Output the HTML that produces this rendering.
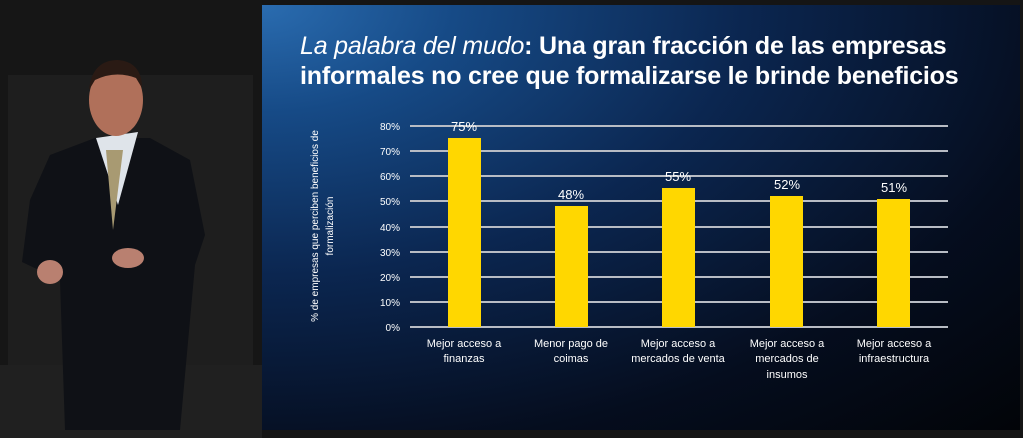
<!DOCTYPE html>
<html><head><style>
body{margin:0;width:1023px;height:438px;overflow:hidden;background:#151515;position:relative;font-family:"Liberation Sans",sans-serif}
#slide{position:absolute;left:262px;top:5px;width:758px;height:425px;background:radial-gradient(ellipse at 0% 0%,#2a6cb0 0%,#164a86 18%,#0b2650 45%,#050d1e 75%,#020408 100%)}
.t{position:absolute;color:#fff;font-weight:bold;font-size:25px;left:38px;white-space:nowrap;letter-spacing:-0.2px}
</style></head><body>
<svg width="262" height="438" style="position:absolute;left:0;top:0">
<rect width="262" height="438" fill="#161616"/>
<rect x="8" y="75" width="245" height="290" fill="#1e1e1e"/>
<rect x="0" y="365" width="262" height="73" fill="#202020"/>
<path d="M50 155 L95 138 L150 138 L190 160 L205 235 L195 265 L180 430 L65 430 L60 280 L22 262 L30 200 Z" fill="#0f1116"/>
<polygon points="96,138 118,205 138,132" fill="#dfe4ea"/>
<polygon points="106,150 113,230 123,150" fill="#a89a72"/>
<ellipse cx="116" cy="100" rx="27" ry="36" fill="#b0705a"/>
<path d="M89 90 Q92 60 118 60 Q142 62 142 88 L136 78 Q115 70 95 80 Z" fill="#2a1a14"/>
<ellipse cx="50" cy="272" rx="13" ry="12" fill="#b98070"/>
<ellipse cx="128" cy="258" rx="16" ry="10" fill="#b98070"/>
</svg>
<div id="slide">
<div class="t" style="top:27px"><i style="font-weight:normal">La palabra del mudo</i>: Una gran fracción de las empresas</div>
<div class="t" style="top:57px">informales no cree que formalizarse le brinde beneficios</div>
</div>
<svg width="1023" height="438" style="position:absolute;left:0;top:0" font-family="Liberation Sans, sans-serif">
<g stroke="#b8bcc4" stroke-width="2">
<line x1="410" x2="948" y1="327" y2="327"/><line x1="410" x2="948" y1="302" y2="302"/>
<line x1="410" x2="948" y1="277" y2="277"/><line x1="410" x2="948" y1="252" y2="252"/>
<line x1="410" x2="948" y1="227" y2="227"/><line x1="410" x2="948" y1="201" y2="201"/>
<line x1="410" x2="948" y1="176" y2="176"/><line x1="410" x2="948" y1="151" y2="151"/>
<line x1="410" x2="948" y1="126" y2="126"/>
</g>
<g fill="#fff" font-size="10" text-anchor="end">
<text x="400" y="331">0%</text><text x="400" y="306">10%</text><text x="400" y="281">20%</text>
<text x="400" y="256">30%</text><text x="400" y="231">40%</text><text x="400" y="205">50%</text>
<text x="400" y="180">60%</text><text x="400" y="155">70%</text><text x="400" y="130">80%</text>
</g>
<g fill="#ffd700">
<rect x="448" y="138" width="33" height="189"/>
<rect x="555" y="206" width="33" height="121"/>
<rect x="662" y="188" width="33" height="139"/>
<rect x="770" y="196" width="33" height="131"/>
<rect x="877" y="199" width="33" height="128"/>
</g>
<g fill="#fff" font-size="13" text-anchor="middle">
<text x="464" y="131">75%</text><text x="571" y="199">48%</text><text x="678" y="181">55%</text>
<text x="787" y="189">52%</text><text x="894" y="192">51%</text>
</g>
<g fill="#fff" font-size="11" text-anchor="middle">
<text x="464" y="347">Mejor acceso a</text><text x="464" y="362">finanzas</text>
<text x="571" y="347">Menor pago de</text><text x="571" y="362">coimas</text>
<text x="678" y="347">Mejor acceso a</text><text x="678" y="362">mercados de venta</text>
<text x="787" y="347">Mejor acceso a</text><text x="787" y="362">mercados de</text><text x="787" y="378">insumos</text>
<text x="894" y="347">Mejor acceso a</text><text x="894" y="362">infraestructura</text>
</g>
<g fill="#fff" font-size="10" text-anchor="middle">
<text transform="translate(318,226) rotate(-90)">% de empresas que perciben beneficios de</text>
<text transform="translate(333,226) rotate(-90)">formalización</text>
</g>
</svg>
</body></html>
